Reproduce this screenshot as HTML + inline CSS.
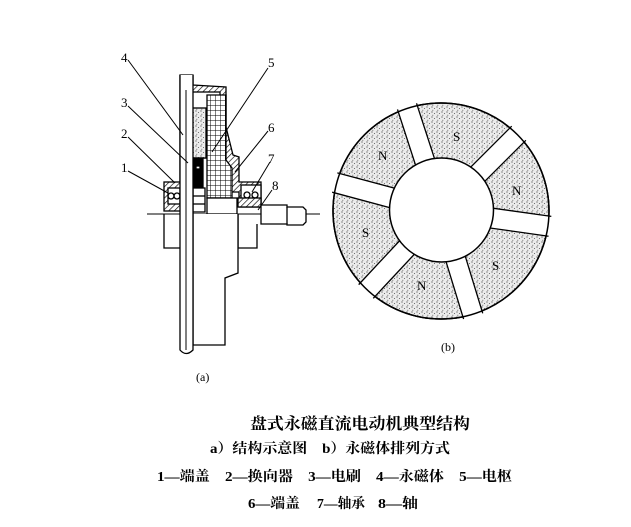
<!DOCTYPE html>
<html><head><meta charset="utf-8"><style>
html,body{margin:0;padding:0;background:#fff;}
svg{display:block;}
.t{font-family:"Liberation Serif","Noto Serif CJK SC","Noto Sans CJK SC",serif;fill:#000;}
</style></head><body>
<svg width="631" height="527" viewBox="0 0 631 527" xmlns="http://www.w3.org/2000/svg">
<defs>
<pattern id="dots" width="5" height="5" patternUnits="userSpaceOnUse">
<rect width="5" height="5" fill="#ececec"/>
<circle cx="1" cy="1" r="0.6" fill="#444"/><circle cx="3.5" cy="2.5" r="0.55" fill="#555"/><circle cx="1.8" cy="4.2" r="0.5" fill="#555"/>
</pattern>
<pattern id="hatch" width="4" height="4" patternUnits="userSpaceOnUse" patternTransform="rotate(45)">
<rect width="4" height="4" fill="#fff"/><line x1="0" y1="0" x2="0" y2="4" stroke="#000" stroke-width="1.3"/>
</pattern>
<pattern id="grid" width="5" height="5" patternUnits="userSpaceOnUse">
<rect width="5" height="5" fill="#fff"/><path d="M0 0H5M0 0V5" stroke="#000" stroke-width="1"/>
</pattern>
</defs>

<g stroke="#000" stroke-width="1.3" fill="none">
<line x1="147" y1="214" x2="320" y2="214" stroke-width="1"/>
<path d="M180 75 L193 75 L193 85 L226 87 L226 127 L233 155 L239 157 L239 182 L261 182 L261 207 L239 207 L239 192 L226 192 L226 160 L220 152 L220 95 L199 95 L199 160 L193 160 L193 210 L180 210 Z" fill="url(#hatch)"/>
<rect x="187" y="92" width="33" height="66" fill="#fff"/>
<rect x="189" y="108" width="17" height="50" fill="url(#dots)"/>
<path d="M207 95 L226 95 L226 160 L232 168 L232 198 L207 198 Z" fill="url(#grid)"/>
<rect x="188" y="158" width="15" height="30" fill="#000"/>
<rect x="190" y="162" width="4" height="3" fill="#fff"/><rect x="196" y="166" width="4" height="3" fill="#fff"/>
<rect x="188" y="188" width="5" height="26" fill="#000"/>
<rect x="193" y="188" width="12" height="24" fill="#fff"/>
<line x1="193" y1="196" x2="205" y2="196"/><line x1="193" y1="204" x2="205" y2="204"/>
<rect x="164" y="182" width="18" height="29" fill="url(#hatch)"/>
<rect x="168" y="188" width="12" height="16" fill="#fff"/>
<circle cx="171" cy="196" r="3"/><circle cx="177" cy="196" r="3"/>
<rect x="241" y="185" width="20" height="20" fill="#fff"/>
<circle cx="247" cy="195" r="3"/><circle cx="255" cy="195" r="3"/>
<rect x="238" y="198" width="23" height="9" fill="url(#hatch)"/>
<rect x="207" y="198" width="30" height="16" fill="#fff"/>
<path d="M261 205 L287 205 L287 207 L303 207 L306 210 L306 222 L303 225 L287 225 L287 224 L261 224 Z" fill="#fff"/>
<line x1="287" y1="207" x2="287" y2="224"/>
<path d="M164 214 L164 248 L180 248 M238 214 L238 248 L257 248 L257 224" />
<path d="M193 214 L193 345 L225 345 L225 278 L238 273 L238 214" fill="#fff"/>
<path d="M180 75 L180 350 Q186 357 193 350 L193 75" fill="#fff"/>
<line x1="186" y1="90" x2="186" y2="350" stroke-width="1"/>
<g stroke-width="1">
<line x1="128" y1="60" x2="183" y2="135"/>
<line x1="268" y1="68" x2="212" y2="152"/>
<line x1="128" y1="106" x2="188" y2="163"/>
<line x1="128" y1="137" x2="175" y2="183"/>
<line x1="128" y1="171" x2="168" y2="193"/>
<line x1="268" y1="131" x2="235" y2="172"/>
<line x1="270" y1="162" x2="252" y2="192"/>
<line x1="272" y1="190" x2="258" y2="210"/>
</g>
</g>
<g class="t" font-size="13">
<text x="121" y="62">4</text><text x="268" y="67">5</text>
<text x="121" y="107">3</text><text x="121" y="138">2</text><text x="121" y="172">1</text>
<text x="268" y="132">6</text><text x="268" y="163">7</text><text x="272" y="190">8</text>
<text x="196" y="381" font-size="12">(a)</text>
</g>

<g transform="translate(441,211)">
<circle r="108" fill="url(#dots)" stroke="#000" stroke-width="1.5"/>
<g fill="#fff" stroke="#000" stroke-width="1.3">
<g transform="rotate(-108)"><rect x="50" y="-10" width="60" height="20" stroke="none"/><path d="M50 -10 L110 -10 M50 10 L110 10" fill="none"/></g>
<g transform="rotate(-45)"><rect x="50" y="-10" width="60" height="20" stroke="none"/><path d="M50 -10 L110 -10 M50 10 L110 10" fill="none"/></g>
<g transform="rotate(8)"><rect x="50" y="-10" width="60" height="20" stroke="none"/><path d="M50 -10 L110 -10 M50 10 L110 10" fill="none"/></g>
<g transform="rotate(73)"><rect x="50" y="-10" width="60" height="20" stroke="none"/><path d="M50 -10 L110 -10 M50 10 L110 10" fill="none"/></g>
<g transform="rotate(133)"><rect x="50" y="-10" width="60" height="20" stroke="none"/><path d="M50 -10 L110 -10 M50 10 L110 10" fill="none"/></g>
<g transform="rotate(195)"><rect x="50" y="-10" width="60" height="20" stroke="none"/><path d="M50 -10 L110 -10 M50 10 L110 10" fill="none"/></g>
</g>
<circle r="108" fill="none" stroke="#000" stroke-width="1.5"/>
<circle cx="0.5" cy="-1" r="52" fill="#fff" stroke="#000" stroke-width="1.5"/>
</g>
<g class="t" font-size="13">
<text x="378" y="160">N</text><text x="453" y="141">S</text><text x="512" y="195">N</text>
<text x="492" y="270">S</text><text x="417" y="290">N</text><text x="362" y="237">S</text>
<text x="441" y="351" font-size="12">(b)</text>
</g>

<g class="t" font-weight="bold">
<text x="250" y="429" font-size="16" textLength="220" lengthAdjust="spacingAndGlyphs">盘式永磁直流电动机典型结构</text>
<text x="210" y="453" font-size="14" textLength="240" lengthAdjust="spacingAndGlyphs">a）结构示意图　b）永磁体排列方式</text>
<text x="157" y="481" font-size="14" textLength="355" lengthAdjust="spacingAndGlyphs">1—端盖　2—换向器　3—电刷　4—永磁体　5—电枢</text>
<text x="248" y="508" font-size="14" textLength="52" lengthAdjust="spacingAndGlyphs">6—端盖</text>
<text x="317" y="508" font-size="14" textLength="48" lengthAdjust="spacingAndGlyphs">7—轴承</text>
<text x="378" y="508" font-size="14" textLength="40" lengthAdjust="spacingAndGlyphs">8—轴</text>
</g>
</svg>
</body></html>
